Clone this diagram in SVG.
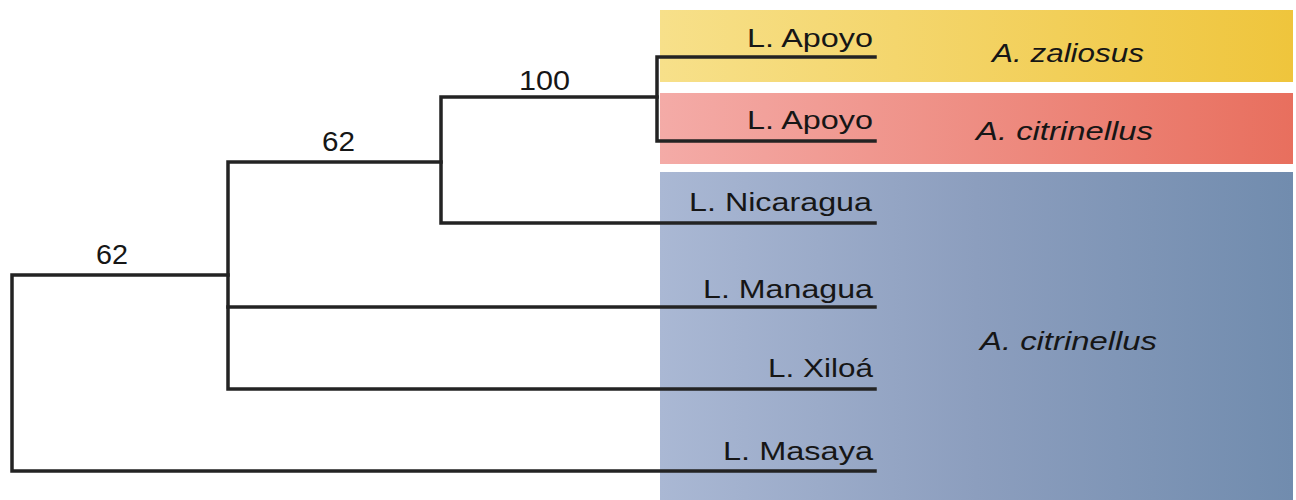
<svg xmlns="http://www.w3.org/2000/svg" width="1296" height="500" viewBox="0 0 1296 500">
<defs>
<linearGradient id="gY" x1="0" y1="0" x2="1" y2="0"><stop offset="0" stop-color="#F7E08A"/><stop offset="1" stop-color="#EFC53C"/></linearGradient>
<linearGradient id="gR" x1="0" y1="0" x2="1" y2="0"><stop offset="0" stop-color="#F4ABA7"/><stop offset="1" stop-color="#E86F5E"/></linearGradient>
<linearGradient id="gB" x1="0" y1="0" x2="1" y2="0"><stop offset="0" stop-color="#AAB8D4"/><stop offset="0.5" stop-color="#8C9EBE"/><stop offset="1" stop-color="#718CAE"/></linearGradient>
<style>
.lbl{font-family:"Liberation Sans",Arial,sans-serif;font-size:26.5px;fill:#161616}
.sp{font-family:"Liberation Sans",Arial,sans-serif;font-size:25.5px;font-style:italic;fill:#161616}
.num{font-family:"Liberation Sans",Arial,sans-serif;font-size:27px;fill:#161616}
.br{fill:none;stroke:#232323;stroke-width:3.5;stroke-linejoin:miter;stroke-linecap:square}
</style>
</defs>
<rect width="1296" height="500" fill="#ffffff"/>
<g id="clade-zaliosus">
<rect x="660" y="10" width="633" height="72" fill="url(#gY)"/>
<text class="sp" x="992" y="62" textLength="152" lengthAdjust="spacingAndGlyphs">A. zaliosus</text>
</g>
<g id="clade-apoyo-citrinellus">
<rect x="660" y="93" width="633" height="71" fill="url(#gR)"/>
<text class="sp" x="976" y="140" textLength="177" lengthAdjust="spacingAndGlyphs">A. citrinellus</text>
</g>
<g id="clade-citrinellus">
<rect x="660" y="172" width="633" height="328" fill="url(#gB)"/>
<text class="sp" x="980" y="350" textLength="177" lengthAdjust="spacingAndGlyphs">A. citrinellus</text>
</g>
<g id="connectors">
<path class="br" d="M875,471 H12 V275 H228"/>
<path class="br" d="M875,389 H228 V162 H441"/>
<path class="br" d="M228,307 H875"/>
<path class="br" d="M875,223 H441 V97 H657"/>
<path class="br" d="M875,57 H657 V141 H875"/>
</g>
<g id="leaf-apoyo-zaliosus"><text class="lbl" x="747" y="47" textLength="126" lengthAdjust="spacingAndGlyphs">L. Apoyo</text></g>
<g id="leaf-apoyo-citrinellus"><text class="lbl" x="747" y="129" textLength="126" lengthAdjust="spacingAndGlyphs">L. Apoyo</text></g>
<g id="leaf-nicaragua"><text class="lbl" x="689" y="211" textLength="183" lengthAdjust="spacingAndGlyphs">L. Nicaragua</text></g>
<g id="leaf-managua"><text class="lbl" x="703" y="298" textLength="170" lengthAdjust="spacingAndGlyphs">L. Managua</text></g>
<g id="leaf-xiloa"><text class="lbl" x="768" y="377" textLength="105" lengthAdjust="spacingAndGlyphs">L. Xiloá</text></g>
<g id="leaf-masaya"><text class="lbl" x="723" y="460" textLength="150" lengthAdjust="spacingAndGlyphs">L. Masaya</text></g>
<g id="support-100"><text class="num" x="519" y="90" textLength="51" lengthAdjust="spacingAndGlyphs">100</text></g>
<g id="support-62a"><text class="num" x="322" y="151" textLength="33" lengthAdjust="spacingAndGlyphs">62</text></g>
<g id="support-62b"><text class="num" x="96" y="264" textLength="32" lengthAdjust="spacingAndGlyphs">62</text></g>
</svg>
